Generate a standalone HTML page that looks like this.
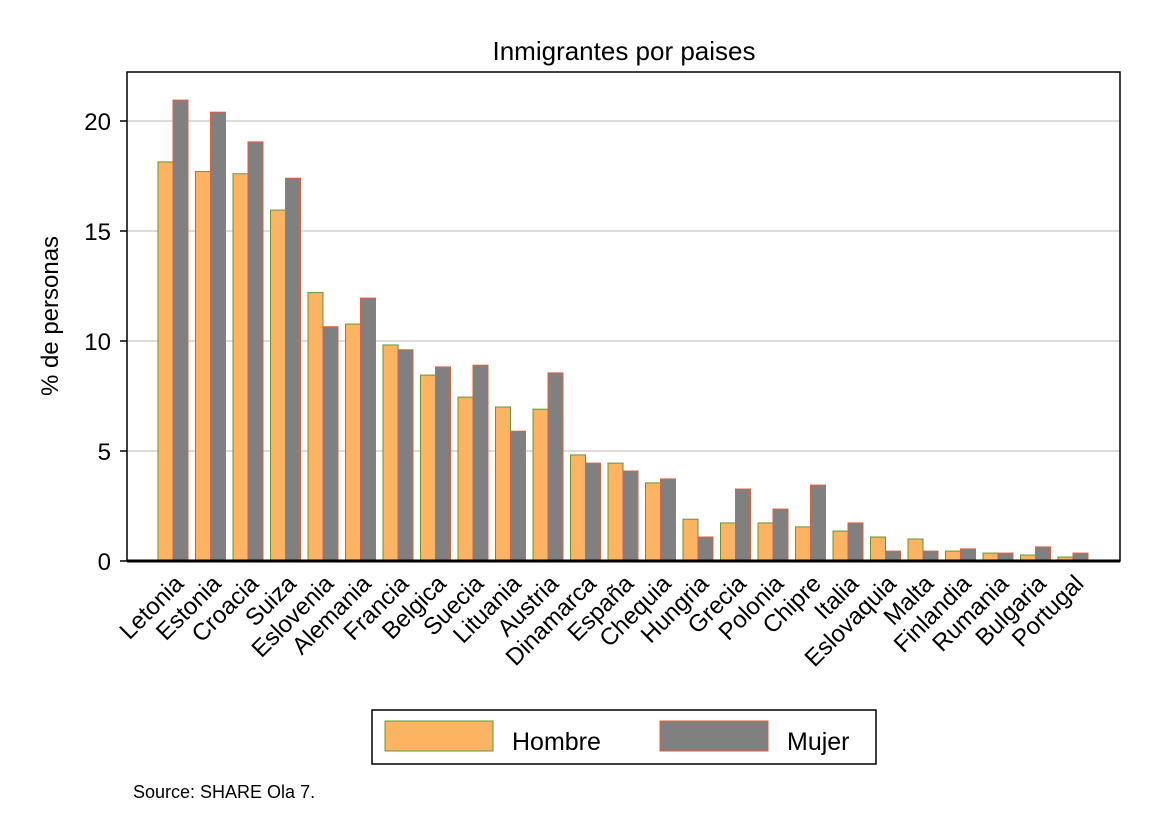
<!DOCTYPE html>
<html><head><meta charset="utf-8"><style>body{margin:0;background:#fff}svg{display:block}text{font-family:"Liberation Sans",sans-serif;fill:#000}</style></head><body>
<svg width="1152" height="838" xmlns="http://www.w3.org/2000/svg">
<text x="624" y="60" font-size="26" text-anchor="middle">Inmigrantes por paises</text>
<g stroke="#dcdcdc" stroke-width="2">
<line x1="128" x2="1120" y1="121" y2="121"/><line x1="128" x2="1120" y1="231" y2="231"/><line x1="128" x2="1120" y1="341" y2="341"/><line x1="128" x2="1120" y1="451" y2="451"/>
</g>
<rect x="127" y="72" width="993" height="489" fill="none" stroke="#000" stroke-width="1.5"/>
<g font-size="24" text-anchor="end">
<text x="111" y="130">20</text><text x="111" y="240">15</text><text x="111" y="350">10</text><text x="111" y="460">5</text><text x="111" y="570">0</text>
</g>
<g stroke="#000" stroke-width="1.5"><line x1="120" x2="127" y1="121" y2="121"/><line x1="120" x2="127" y1="231" y2="231"/><line x1="120" x2="127" y1="341" y2="341"/><line x1="120" x2="127" y1="451" y2="451"/><line x1="120" x2="127" y1="561" y2="561"/></g>
<text transform="translate(58,316) rotate(-90)" font-size="24" text-anchor="middle">% de personas</text>
<g id="bars"></g>
<line x1="127" x2="1120" y1="561" y2="561" stroke="#000" stroke-width="3"/>
<g id="labels" font-size="24" text-anchor="end"></g>
<rect x="372" y="710" width="504" height="54" fill="#fff" stroke="#000" stroke-width="1.5"/>
<rect x="385" y="721" width="108" height="30" fill="#fdb462" stroke="#5a9a3a" stroke-width="1"/>
<text x="512" y="750" font-size="25">Hombre</text>
<rect x="660" y="721" width="108" height="30" fill="#808080" stroke="#e0603a" stroke-width="1"/>
<text x="787" y="750" font-size="25">Mujer</text>
<text x="133" y="798" font-size="18">Source: SHARE Ola 7.</text>
<script>
var d=[["Letonia",18.14,20.95],["Estonia",17.7,20.4],["Croacia",17.6,19.05],["Suiza",15.95,17.4],["Eslovenia",12.2,10.65],["Alemania",10.77,11.95],["Francia",9.82,9.6],["Belgica",8.45,8.82],["Suecia",7.45,8.9],["Lituania",7.0,5.9],["Austria",6.9,8.55],["Dinamarca",4.82,4.45],["España",4.45,4.09],["Chequia",3.55,3.73],["Hungria",1.9,1.09],["Grecia",1.73,3.27],["Polonia",1.73,2.36],["Chipre",1.55,3.45],["Italia",1.36,1.73],["Eslovaquia",1.09,0.45],["Malta",1.0,0.45],["Finlandia",0.45,0.55],["Rumania",0.36,0.36],["Bulgaria",0.27,0.64],["Portugal",0.18,0.36]];
var ns="http://www.w3.org/2000/svg",b=document.getElementById("bars"),l=document.getElementById("labels");
d.forEach(function(r,i){var x=158+i*37.5;
[[r[1],"#fdb462","#5a9a3a",x],[r[2],"#808080","#e0603a",x+15]].forEach(function(q){var h=q[0]*22,e=document.createElementNS(ns,"rect");e.setAttribute("x",q[3]);e.setAttribute("y",561-h);e.setAttribute("width",15);e.setAttribute("height",h);e.setAttribute("fill",q[1]);e.setAttribute("stroke",q[2]);e.setAttribute("stroke-width",1);b.appendChild(e);});
var t=document.createElementNS(ns,"text");var cx=x+27,cy=585;t.setAttribute("transform","translate("+cx+","+cy+") rotate(-45)");t.textContent=r[0];l.appendChild(t);});
</script>
</svg>
</body></html>
